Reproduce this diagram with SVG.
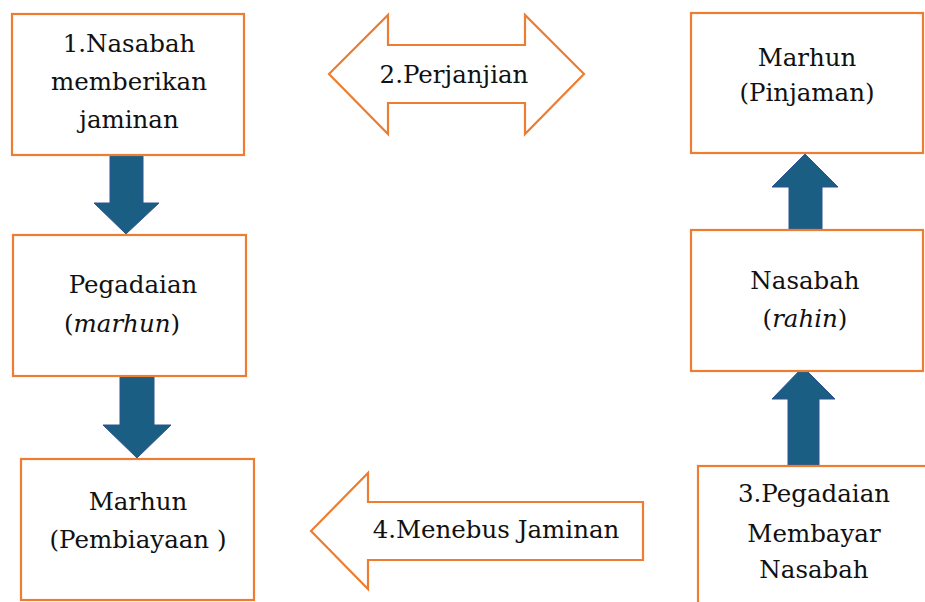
<svg xmlns="http://www.w3.org/2000/svg" width="925" height="602" viewBox="0 0 925 602">
<style>
.box{fill:#fff;stroke:#ED7D31;stroke-width:2.2}
.shape{fill:#fff;stroke:#ED7D31;stroke-width:2.2;stroke-linejoin:miter}
.blk{fill:#1B5E84;stroke:#2F528F;stroke-width:1}
text{font-family:'DejaVu Serif','Liberation Serif',serif;font-size:24.5px;fill:#111;text-anchor:middle}
.it{font-style:italic}
</style>
<rect width="925" height="602" fill="#fff"/>
<g id="connectors">
<polygon class="blk" points="110,155 143,155 143,203 159,203 126,234 94,203 110,203"/>
<polygon class="blk" points="120,369 154,369 154,425 171,425 137,458 103,425 120,425"/>
<polygon class="blk" points="789,229 822,229 822,187 838,187 805,154 772,187 789,187"/>
<polygon class="blk" points="788,465 819,465 819,399 835,399 803,367 772,399 788,399"/>
</g>
<g id="n1">
<rect class="box" x="12" y="14" width="232" height="141"/>
<text x="129" y="52">1.Nasabah</text>
<text x="129" y="90">memberikan</text>
<text x="129" y="128">jaminan</text>
</g>
<g id="n2">
<rect class="box" x="13" y="235" width="233" height="141"/>
<text x="133" y="293">Pegadaian</text>
<text x="122" y="332">(<tspan class="it">marhun</tspan>)</text>
</g>
<g id="n3">
<rect class="box" x="21" y="459" width="233" height="141"/>
<text x="138" y="510">Marhun</text>
<text x="138" y="548">(Pembiayaan )</text>
</g>
<g id="n4">
<polygon class="shape" points="329,74 388,15 388,45 525,45 525,15 584,74 525,134 525,103 388,103 388,134"/>
<text x="454" y="83">2.Perjanjian</text>
</g>
<g id="n5">
<rect class="box" x="691" y="13" width="232" height="140"/>
<text x="807" y="66">Marhun</text>
<text x="807" y="101">(Pinjaman)</text>
</g>
<g id="n6">
<rect class="box" x="691" y="230" width="232" height="141"/>
<text x="805" y="289">Nasabah</text>
<text x="805" y="327">(<tspan class="it">rahin</tspan>)</text>
</g>
<g id="n7">
<rect class="box" x="698" y="466" width="240" height="150"/>
<text x="814" y="502">3.Pegadaian</text>
<text x="814" y="542">Membayar</text>
<text x="814" y="578">Nasabah</text>
</g>
<g id="n8">
<polygon class="shape" points="311,531 368,473 368,502 643,502 643,560 368,560 368,589"/>
<text x="496" y="538">4.Menebus Jaminan</text>
</g>
</svg>
